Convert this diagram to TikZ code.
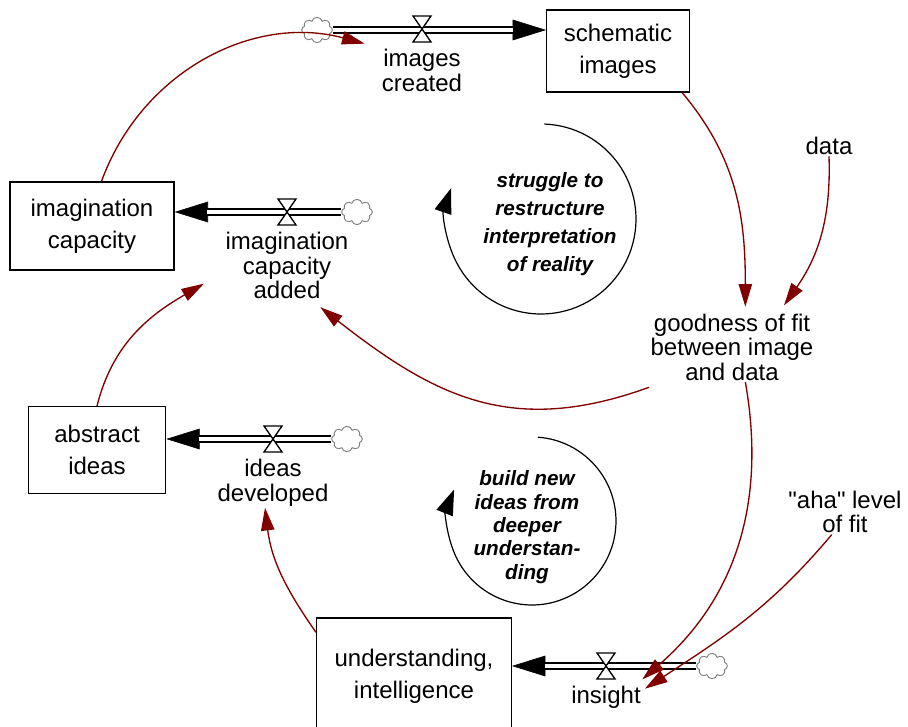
\documentclass[tikz,border=0pt]{standalone}
\usepackage{fontspec}
\setmainfont{Liberation Sans}
\newfontfamily\quotefont{Liberation Sans}[Ligatures=ResetAll]
\usetikzlibrary{arrows.meta,shapes.symbols,positioning}
\definecolor{linkred}{RGB}{128,0,0}

\begin{document}
\begin{tikzpicture}[x=0.75pt,y=0.75pt,
  stock/.style={draw, line width=1pt, align=center, inner sep=0pt, font=\fontsize{18}{24}\selectfont},
  varname/.style={align=center, inner sep=1pt, font=\fontsize{18}{18.4}\selectfont},
  link/.style={draw=linkred, line width=1pt, -{Triangle[length=17pt,width=10pt]}},
  pipe/.style={draw, double, double distance=3.5pt, line width=1pt, shorten >=24.5pt},
  pipetip/.style={draw, line width=0.4pt, -{Triangle[length=25pt,width=15.5pt]}},
  valve/.style={draw, fill=white, line width=1pt},
  cloudy/.style={cloud, cloud puffs=8, aspect=1.2, draw=gray, line width=0.7pt, minimum width=23pt, minimum height=19pt, inner sep=0pt},
  loopmark/.style={draw, line width=0.9pt, -{Triangle[length=19pt,width=13pt]}},
  looptext/.style={align=center, font=\bfseries\itshape\fontsize{15.5}{21}\selectfont}]
  \useasboundingbox (0,-727) rectangle (908,0);
  \node[stock, minimum width=107pt, minimum height=61.5pt](schem) at (618,-51){schematic\\images};
  \node[stock, minimum width=123pt, minimum height=66pt](imag) at (92,-226){imagination\\capacity};
  \node[stock, minimum width=103pt, minimum height=65pt](abs) at (97,-450){abstract\\ideas};
  \node[stock, minimum width=146pt, minimum height=87pt](und) at (414,-676){understanding,\\intelligence};
  \node[cloudy](cloudI) at (317,-30){};
  \node[cloudy](cloudA) at (357,-212){};
  \node[cloudy](cloudD) at (347,-439){};
  \node[cloudy](cloudS) at (712,-666){};
  \coordinate (vI) at (422,-29);
  \coordinate (vA) at (287,-212);
  \coordinate (vD) at (273,-439);
  \coordinate (vS) at (606,-666);
  \foreach \s/\e in {cloudI.east/schem.west, cloudA.west/imag.east, cloudD.west/abs.east, cloudS.west/und.east}{
    \draw[pipetip](\s)--(\s -| \e);
    \draw[pipe](\s)--(\s -| \e);
  }
  \foreach \v in {vI,vA,vD,vS}
    \draw[valve](\v)+(-9,13)--+(9,13)--+(-9,-13)--+(9,-13)--cycle;
  \node[varname, below=14pt of vI](creat){images\\created};
  \node[varname, below=14pt of vA](add){imagination\\capacity\\added};
  \node[varname, below=14pt of vD](dev){ideas\\developed};
  \node[varname, below=14pt of vS](ins){insight};
  \node[varname](data) at (829,-146){data};
  \node[varname](good) at (732,-347){goodness of fit\\between image\\and data};
  \node[varname, font=\quotefont\fontsize{18}{18.4}\selectfont](aha) at (845,-512){"aha" level\\of fit};
  \coordinate (loopA) at (541,-219);
  \draw[loopmark](loopA) ++(88:95) arc[start angle=88, end angle=-199, radius=95];
  \node[looptext](loopAtext) at (550,-224){struggle to\\restructure\\interpretation\\of reality};
  \coordinate (loopB) at (532,-521);
  \draw[loopmark](loopB) ++(86:84) arc[start angle=86, end angle=-202, radius=84];
  \node[looptext, font=\bfseries\itshape\fontsize{15.5}{17.5}\selectfont](loopBtext) at (527,-527){build new\\ideas from\\deeper\\understan-\\ding};
  \draw[link](imag.78) to[out=70, in=165] ([xshift=-43pt,yshift=-11pt]vI);
  \draw[link](schem.-33) to[out=-50, in=90] ([xshift=10pt,yshift=4pt]good.north);
  \draw[link](data.south) to[out=-88, in=55] ([xshift=39pt,yshift=5pt]good.north);
  \draw[link]([yshift=-4pt]good.south west) to[out=200, in=-38, looseness=1.1] ([xshift=25pt,yshift=-5pt]add.south);
  \draw[link]([xshift=10pt]good.south) to[out=-80, in=41] ([yshift=4pt]ins.north east);
  \draw[link]([xshift=-10pt]aha.south) to[out=-130, in=33] ([xshift=2pt,yshift=-3pt]ins.north east);
  \draw[link](abs.north) to[out=76, in=210] ([xshift=-15pt,yshift=-13.5pt]add.west);
  \draw[link](und.156) to[out=125, in=-83] ([xshift=-6pt]dev.south);
\end{tikzpicture}
\end{document}
